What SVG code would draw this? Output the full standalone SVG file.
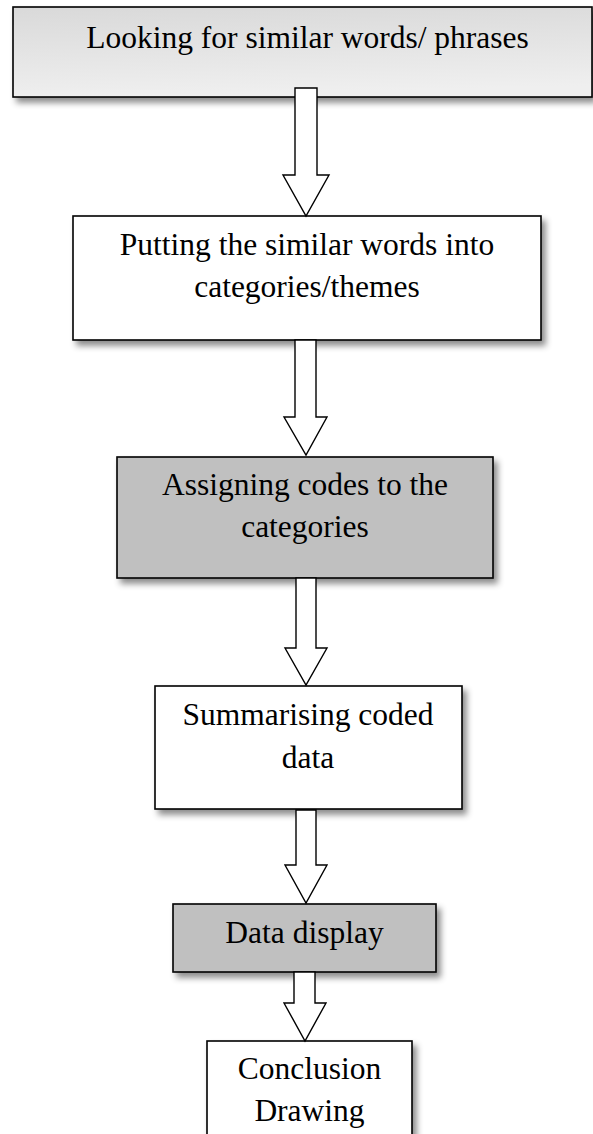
<svg xmlns="http://www.w3.org/2000/svg" width="593" height="1134" viewBox="0 0 593 1134">
  <style>
    .box { stroke: #000; stroke-width: 1.6; filter: url(#shadow); }
    .plain { fill: #fff; }
    .grey { fill: #c0c0c0; }
    .label { font-family: "Liberation Serif", "Times New Roman", serif; font-size: 31.5px; fill: #000; text-anchor: middle; }
    .arrow { fill: #fff; stroke: #000; stroke-width: 1.4; stroke-linejoin: miter; }
  </style>
  <defs>
    <linearGradient id="topFill" x1="0" y1="0" x2="0.15" y2="1">
      <stop offset="0" stop-color="#d9d9d9"/>
      <stop offset="1" stop-color="#efefef"/>
    </linearGradient>
    <filter id="shadow" x="-10%" y="-20%" width="125%" height="150%">
      <feDropShadow dx="4" dy="5" stdDeviation="3" flood-color="#000" flood-opacity="0.45"/>
    </filter>
  </defs>

  <rect width="593" height="1134" fill="#fff"/>

  <g id="node-looking">
    <rect class="box" x="13" y="7" width="579" height="90" fill="url(#topFill)"/>
    <text class="label" x="307.5" y="48">Looking for similar words/ phrases</text>
  </g>

  <g id="node-putting">
    <rect class="box plain" x="73" y="216" width="468" height="124"/>
    <text class="label" x="307" y="255">Putting the similar words into</text>
    <text class="label" x="307" y="297">categories/themes</text>
  </g>

  <g id="node-assigning">
    <rect class="box grey" x="117" y="457" width="376" height="121"/>
    <text class="label" x="305" y="495">Assigning codes to the</text>
    <text class="label" x="305" y="537">categories</text>
  </g>

  <g id="node-summarising">
    <rect class="box plain" x="155" y="686" width="307" height="123"/>
    <text class="label" x="308" y="725">Summarising coded</text>
    <text class="label" x="308" y="768">data</text>
  </g>

  <g id="node-display">
    <rect class="box grey" x="173" y="904" width="263" height="68"/>
    <text class="label" x="304.5" y="943">Data display</text>
  </g>

  <g id="node-conclusion">
    <rect class="box plain" x="207" y="1041" width="205" height="110"/>
    <text class="label" x="309.5" y="1079">Conclusion</text>
    <text class="label" x="309.5" y="1121">Drawing</text>
  </g>

  <g id="connectors">
    <!-- block arrows: shaft 22 wide, head 46 wide -->
    <polygon class="arrow" points="295,88 317,88 317,175 329,175 306,216 283,175 295,175"/>
    <polygon class="arrow" points="295,340 316,340 316,417 327,417 306,455 284,417 295,417"/>
    <polygon class="arrow" points="296,578 316,578 316,648 327,648 306,685 285,648 296,648"/>
    <polygon class="arrow" points="296,810 316,810 316,865 327,865 306,903 285,865 296,865"/>
    <polygon class="arrow" points="294,972 315,972 315,1003 326,1003 305,1041 284,1003 294,1003"/>
  </g>
</svg>
